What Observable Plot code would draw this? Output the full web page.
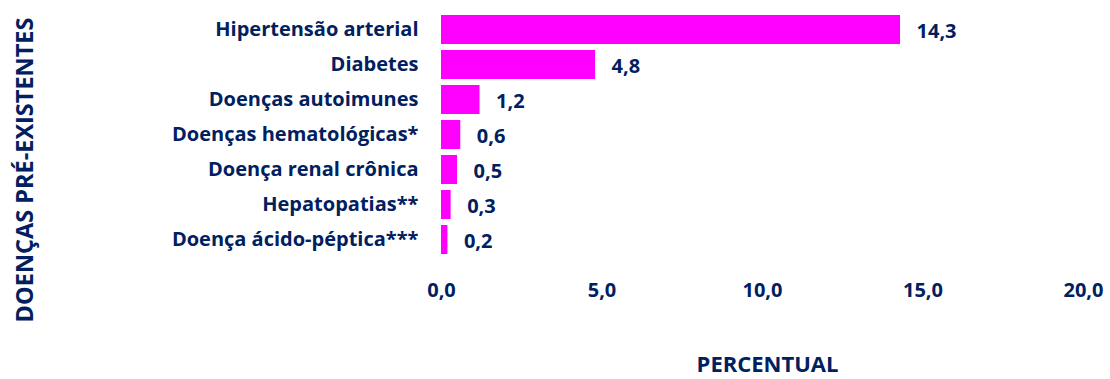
<!DOCTYPE html>
<html>
<head>
<meta charset="utf-8">
<script src="https://cdn.jsdelivr.net/npm/d3@7"></script>
<script src="https://cdn.jsdelivr.net/npm/@observablehq/plot@0.6"></script>
<style>
  html, body { margin: 0; padding: 0; background: #fff; }
</style>
</head>
<body>
<div id="chart"></div>
<script>
const categories = [
  "Hipertensão arterial",
  "Diabetes",
  "Doenças autoimunes",
  "Doenças hematológicas*",
  "Doença renal crônica",
  "Hepatopatias**",
  "Doença ácido-péptica***"
];
const values = [14.3, 4.8, 1.2, 0.6, 0.5, 0.3, 0.2];
const xTicks = [0, 5, 10, 15, 20];
const xTitle = "PERCENTUAL";
const yTitle = "DOENÇAS PRÉ-EXISTENTES";

const data = categories.map((c, i) => ({cat: c, value: values[i]}));
const fmt = d => d.toFixed(1).replace(".", ",");
const navy = "#002060";

const chart = Plot.plot({
  width: 1110,
  height: 379,
  marginLeft: 441,
  marginRight: 27,
  marginTop: 6,
  marginBottom: 116,
  style: {fontFamily: "'Open Sans', sans-serif", fontWeight: 700, fontSize: "20px", color: navy, background: "#fff"},
  x: {domain: [0, 20]},
  y: {domain: categories, padding: 0.16},
  marks: [
    Plot.barX(data, {x: "value", y: "cat", fill: "#FF00FF"}),
    Plot.text(data, {x: "value", y: "cat", text: d => fmt(d.value), textAnchor: "start", dx: 16, dy: 2, fill: navy, fontWeight: 700, fontSize: 20}),
    Plot.axisX({ticks: xTicks, tickFormat: fmt, tickSize: 0, tickPadding: 19, label: null, fontWeight: 700, fontSize: 20}),
    Plot.axisY({tickSize: 0, tickPadding: 23, label: null, fontWeight: 700, fontSize: 20}),
    Plot.text([xTitle], {frameAnchor: "bottom", textAnchor: "middle", dx: 5, dy: 101, lineAnchor: "middle", fill: navy, fontWeight: 700, fontSize: 22}),
    Plot.text([yTitle], {frameAnchor: "left", textAnchor: "middle", dx: -416, dy: 35, rotate: -90, lineAnchor: "middle", fill: navy, fontWeight: 700, fontSize: 23.5})
  ]
});
document.getElementById("chart").appendChild(chart);
</script>
</body>
</html>
